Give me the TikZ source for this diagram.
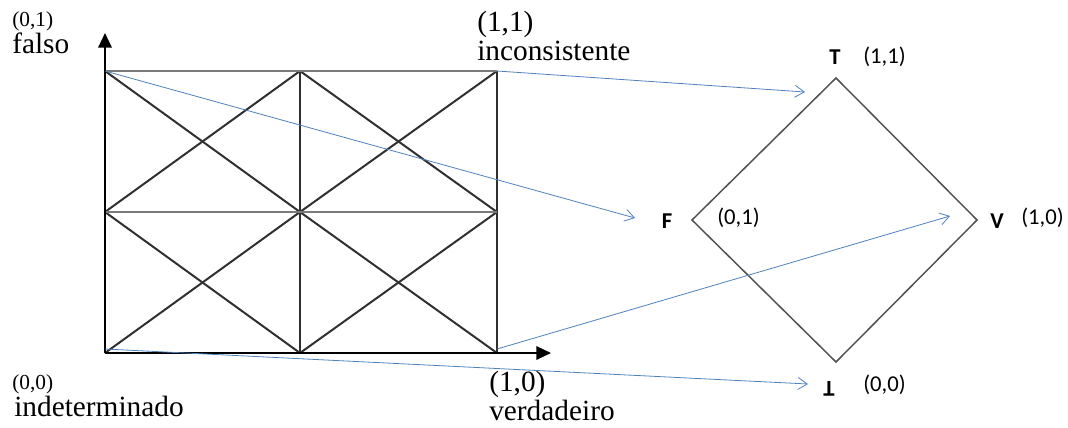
\documentclass[tikz,border=0pt]{standalone}
\usepackage{fontspec}
\setmainfont{Liberation Serif}
\newfontfamily\calibri{Carlito}
\usepackage{graphicx}
\usepackage{tikz}
\usetikzlibrary{arrows.meta,positioning}
\definecolor{lineblue}{HTML}{4F81BD}
\definecolor{gridgray}{HTML}{303030}
\definecolor{rulegray}{HTML}{7A7A7A}
\definecolor{diamgray}{HTML}{505050}
\tikzset{
  gridline/.style={line width=1.5pt, color=gridgray},
  edgeline/.style={line width=1.7pt, color=rulegray},
  axisarrow/.style={
    -{Triangle[length=11pt,width=10pt]}, line width=1.8pt, black
  },
  maparrow/.style={
    -{Straight Barb[length=7pt,width=9pt]}, line width=0.6pt, color=lineblue
  },
  lattice/.style={line width=1.1pt, color=diamgray},
  seriflabel/.style={
    font=\fontsize{22}{24}\selectfont, inner sep=0pt, anchor=base west
  },
  serifsmall/.style={
    font=\fontsize{16}{18}\selectfont, inner sep=0pt, anchor=base west
  },
  vertexname/.style={
    font=\calibri\bfseries\fontsize{17}{19}\selectfont, inner sep=0pt
  },
  pairlabel/.style={
    font=\calibri\fontsize{17}{19}\selectfont, inner sep=0pt, anchor=west
  },
}

\begin{document}
\begin{tikzpicture}[x=0.75pt, y=-0.75pt]
  \useasboundingbox (0,0) rectangle (1068,428);

  % Corners of the square
  \coordinate (p00) at (105,353);
  \coordinate (p10) at (497,353);
  \coordinate (p01) at (105,71);
  \coordinate (p11) at (497,71);

  % Grid with crossed cells
  \foreach \xa/\xb in {105/300, 300/497}
    \foreach \ya/\yb in {71/212, 212/353} {
      \draw[gridline] (\xa,\ya) -- (\xb,\yb);
      \draw[gridline] (\xa,\yb) -- (\xb,\ya);
    }
  \draw[gridline] (300,71) -- (300,353);
  \draw[gridline] (p11) -- (p10);
  \draw[edgeline] (p01) -- (p11);
  \draw[edgeline] (105,212) -- (497,212);

  % Axes
  \coordinate (ytip) at (105,33);
  \coordinate (xtip) at (551,353);
  \draw[axisarrow] (p00) -- (ytip);
  \draw[axisarrow] (p00) -- (xtip);

  % Square labels
  \node[serifsmall] (l01) at (12,27) {(0,1)};
  \node[seriflabel] (n01) at (12,54) {falso};
  \node[seriflabel] (l11) at (477,32) {(1,1)};
  \node[seriflabel] (n11) at (477,61) {inconsistente};
  \node[serifsmall] (l00) at (12,389) {(0,0)};
  \node[seriflabel] (n00) at (14,416) {indeterminado};
  \node[seriflabel] (l10) at (489,391) {(1,0)};
  \node[seriflabel] (n10) at (489,420) {verdadeiro};

  % Lattice
  \coordinate (dT) at (836,78);
  \coordinate (dV) at (977,220);
  \coordinate (dB) at (836,362);
  \coordinate (dF) at (692,220);
  \draw[lattice] (dT) -- (dV) -- (dB) -- (dF) -- cycle;

  \node[vertexname] (T) at (835,57) {T};
  \node[pairlabel] (T11) at (863,57) {(1,1)};
  \node[vertexname] (F) at (667,221) {F};
  \node[pairlabel] (F01) at (717,218) {(0,1)};
  \node[vertexname] (V) at (997,221) {V};
  \node[pairlabel] (V10) at (1021,218) {(1,0)};
  \node[vertexname] (B) at (829,389) {\rotatebox[origin=c]{180}{T}};
  \node[pairlabel] (B00) at (863,385) {(0,0)};

  % Mapping arrows
  \coordinate (tT) at (805,92);
  \coordinate (tF) at (635,218);
  \coordinate (tV) at (950,216);
  \coordinate (tB) at (808,384);
  \draw[maparrow] (p11) -- (tT);
  \draw[maparrow] (p01) -- (tF);
  \draw[maparrow] ([yshift=3pt]p10) -- (tV);
  \draw[maparrow] ([yshift=3pt]p00) -- (tB);
\end{tikzpicture}
\end{document}
